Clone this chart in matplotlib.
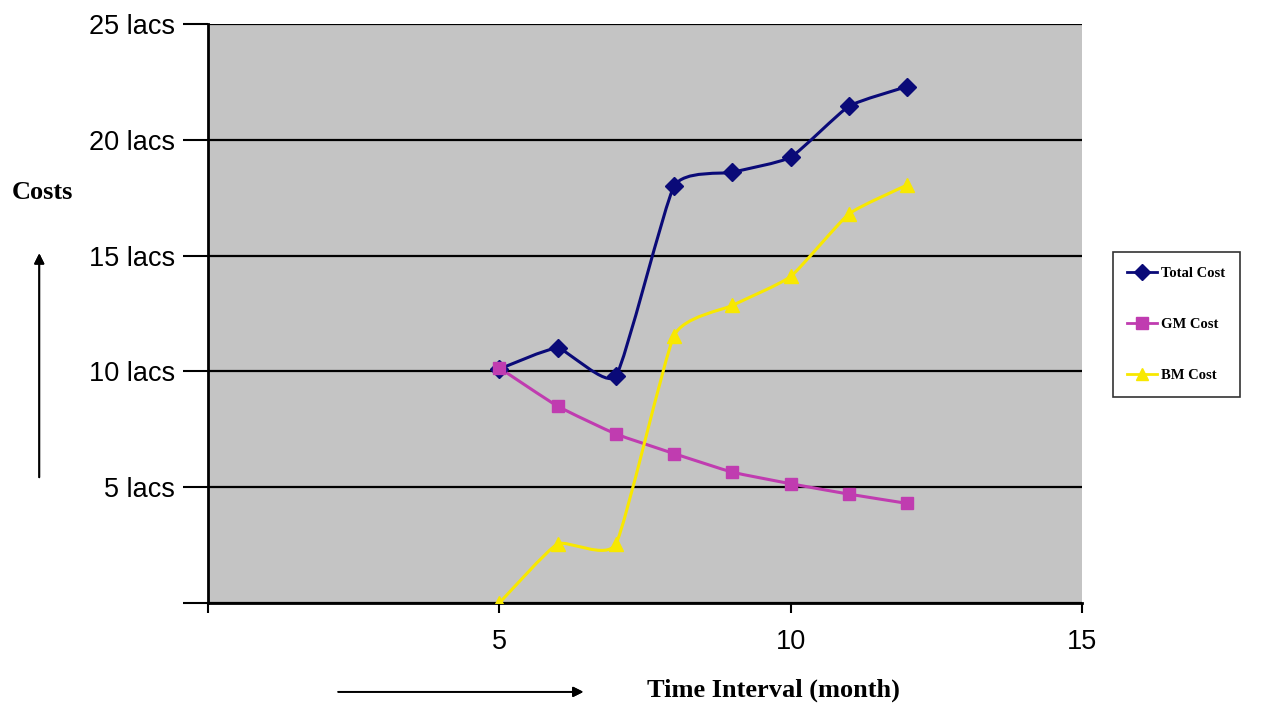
import numpy as np
import matplotlib.pyplot as plt
from matplotlib.path import Path
from matplotlib.patches import PathPatch
from matplotlib.lines import Line2D

months = [5, 6, 7, 8, 9, 10, 11, 12]
total_cost = [10.1, 11.0, 9.8, 18.0, 18.6, 19.25, 21.45, 22.3]
gm_cost = [10.15, 8.5, 7.3, 6.45, 5.65, 5.15, 4.7, 4.3]
bm_cost = [0.0, 2.55, 2.55, 11.55, 12.85, 14.1, 16.8, 18.05]

y_ticks = [0, 5, 10, 15, 20, 25]
y_labels = ['', '5 lacs', '10 lacs', '15 lacs', '20 lacs', '25 lacs']
x_ticks = [0, 5, 10, 15]
x_labels = ['', '5', '10', '15']

series = [
    ('Total Cost', total_cost, '#0a0a78', 'D', 9),
    ('GM Cost', gm_cost, '#c03cb0', 's', 8),
    ('BM Cost', bm_cost, '#f8e800', '^', 10),
]


def smooth_path(x, y, k=0.08):
    # mildly smoothed bezier through the data points (like excel smoothed lines)
    pts = np.column_stack([x, y]).astype(float)
    verts = [pts[0]]
    codes = [Path.MOVETO]
    n = len(pts)
    for i in range(n - 1):
        p0 = pts[i - 1] if i > 0 else pts[i]
        p1 = pts[i]
        p2 = pts[i + 1]
        p3 = pts[i + 2] if i + 2 < n else pts[i + 1]
        c1 = p1 + (p2 - p0) * k
        c2 = p2 - (p3 - p1) * k
        verts += [c1, c2, p2]
        codes += [Path.CURVE4] * 3
    return Path(verts, codes)


fig = plt.figure(figsize=(12.66, 7.06), dpi=100)
ax = fig.add_axes([0.1643, 0.1459, 0.6904, 0.8201])
ax.set_facecolor('#c4c4c4')

handles = []
for name, vals, col, mk, ms in series:
    patch = PathPatch(smooth_path(months, vals), facecolor='none', edgecolor=col,
                      lw=2.2, zorder=3)
    ax.add_patch(patch)
    ax.plot(months, vals, ls='none', marker=mk, color=col, ms=ms, zorder=4)
    handles.append(Line2D([], [], color=col, lw=2, marker=mk, ms=8, label=name))

ax.set_xlim(0, 15)
ax.set_ylim(0, 25)
ax.set_xticks(x_ticks)
ax.set_xticklabels(x_labels)
ax.set_yticks(y_ticks)
ax.set_yticklabels(y_labels)
ax.yaxis.grid(True, color='black', lw=1.6)
ax.set_axisbelow(True)
ax.tick_params(axis='both', labelsize=19.5, width=1.5, direction='out')
ax.tick_params(axis='x', length=7, pad=12)
ax.tick_params(axis='y', length=18, pad=6)
for lab in ax.get_xticklabels() + ax.get_yticklabels():
    lab.set_family('Liberation Sans')
for s in ['top', 'right']:
    ax.spines[s].set_visible(False)
ax.spines['left'].set_linewidth(2)
ax.spines['bottom'].set_linewidth(2)

fig.text(0.0095, 0.727, 'Costs', fontsize=19, fontweight='bold', family='Liberation Serif',
         va='center')
fig.text(0.511, 0.022, 'Time Interval (month)', fontsize=19, fontweight='bold',
         family='Liberation Serif', va='center')
fig.add_artist(plt.annotate('', xy=(0.031, 0.645), xytext=(0.031, 0.32),
                            xycoords='figure fraction',
                            arrowprops=dict(arrowstyle='-|>', color='black', lw=1.3,
                                            mutation_scale=15)))
fig.add_artist(plt.annotate('', xy=(0.463, 0.02), xytext=(0.265, 0.02),
                            xycoords='figure fraction',
                            arrowprops=dict(arrowstyle='-|>', color='black', lw=1.3,
                                            mutation_scale=15)))

leg = fig.legend(handles=handles, loc='center left', bbox_to_anchor=(0.879, 0.54),
                 frameon=True, fancybox=False, edgecolor='black', labelspacing=2.6,
                 handlelength=2.0, borderpad=1.0, borderaxespad=0.0, handletextpad=0.3,
                 prop={'family': 'Liberation Serif', 'weight': 'bold', 'size': 10.5})
leg.get_frame().set_linewidth(1.2)

fig.savefig('out.png', dpi=100)
